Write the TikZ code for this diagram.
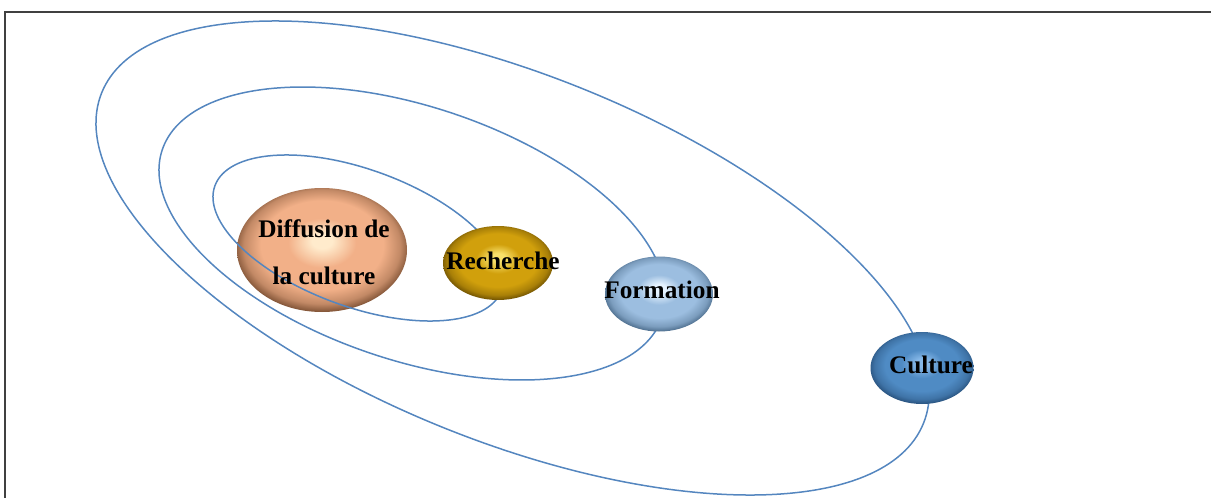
\documentclass[tikz,border=0pt]{standalone}
\usepackage{fontspec}
\setmainfont{Liberation Serif}
\usetikzlibrary{shapes.geometric}

\definecolor{orbitblue}{HTML}{5486BF}
\definecolor{difhi}{HTML}{FFEBCC}
\definecolor{difbody}{HTML}{F2B088}
\definecolor{difedge}{HTML}{6A4126}
\definecolor{rechi}{HTML}{F8E06A}
\definecolor{recbody}{HTML}{D1A00C}
\definecolor{recedge}{HTML}{5E4400}
\definecolor{forhi}{HTML}{E6F3FF}
\definecolor{forbody}{HTML}{9CBEE0}
\definecolor{foredge}{HTML}{3F5F7E}
\definecolor{culhi}{HTML}{86B8E8}
\definecolor{culbody}{HTML}{4F8BC4}
\definecolor{culedge}{HTML}{214770}

\newcommand\planetshading[4]{%
  \pgfdeclareradialshading{#1}{\pgfpoint{0bp}{4bp}}{%
    color(0bp)=(#2); color(3bp)=(#2); color(10bp)=(#3);
    color(18bp)=(#3); color(23bp)=(#3!65!#4); color(27bp)=(#4);
    color(35bp)=(#4)}}
\planetshading{difsh}{difhi}{difbody}{difedge}
\planetshading{recsh}{rechi}{recbody}{recedge}
\planetshading{forsh}{forhi}{forbody}{foredge}
\planetshading{culsh}{culhi}{culbody}{culedge}

\begin{document}
\begin{tikzpicture}
    [x=1pt, y=-1pt,
    orbit/.style={draw=orbitblue, line width=1.5pt},
    planet/.style={ellipse, shade, inner sep=0pt},
    lbl/.style={font=\bfseries\fontsize{25.3}{47.4}\selectfont,
    align=center, inner sep=0pt}]

  \useasboundingbox (0,0) rectangle (1211,498);
  \draw[black!75, line width=1.5pt] (5,498) -- (5,12) -- (1211,12);

  \node[planet, shading=difsh, minimum width=170, minimum height=124]
    (diffusion) at (322,250) {};

  % the three orbits
  \foreach \cx/\cy/\a/\b/\ang in {358.3/238/152.6/68.7/20,
      412.2/233.5/263.6/126.8/18.5, 512.6/258/442.9/183.2/21.9}
    \draw[orbit, rotate around={-\ang:(\cx,\cy)}]
      (\cx,\cy) ellipse [x radius=\a, y radius=\b];

  \node[planet, shading=recsh, minimum width=110, minimum height=74]
    (recherche) at (498,263) {};
  \node[planet, shading=forsh, minimum width=108, minimum height=75]
    (formation) at (659,294) {};
  \node[planet, shading=culsh, minimum width=103, minimum height=72]
    (culture) at (922,368) {};

  \node[lbl] (diffusion-txt) at ([shift={(2,2)}]diffusion.center)
    {Diffusion de\\la culture};
  \node[lbl] (recherche-txt) at ([shift={(5,-2)}]recherche.center) {Recherche};
  \node[lbl] (formation-txt) at ([shift={(3,-4)}]formation.center) {Formation};
  \node[lbl] (culture-txt) at ([shift={(9,-3)}]culture.center) {Culture};

\end{tikzpicture}
\end{document}
